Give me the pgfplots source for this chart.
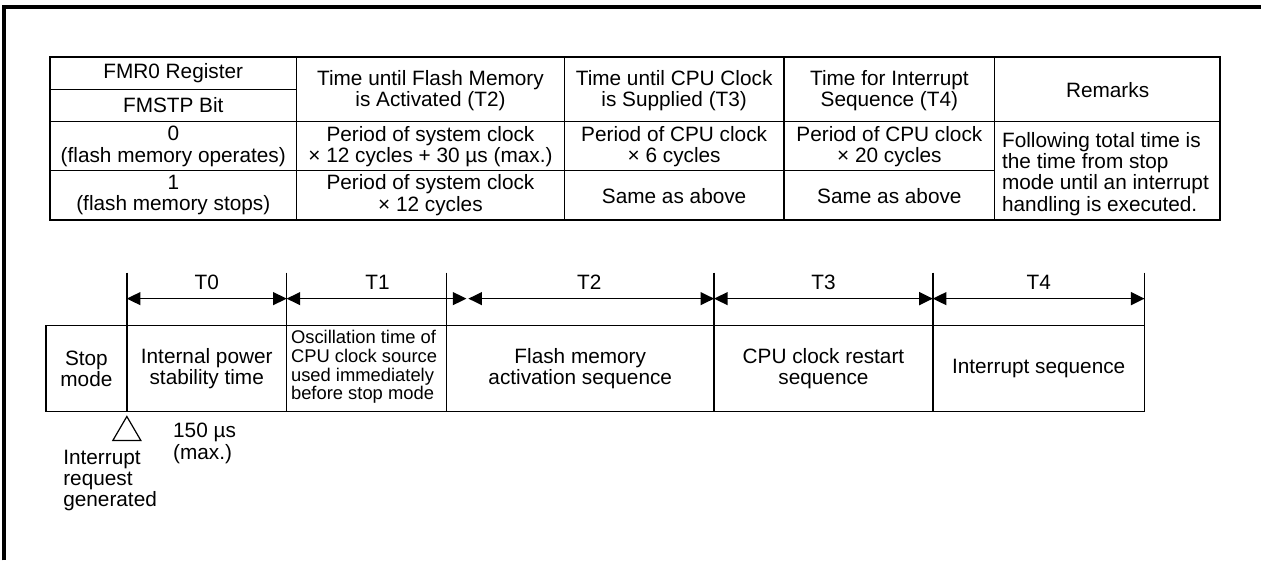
\documentclass[border=0pt]{standalone}
\usepackage{pgfplots}
\pgfplotsset{compat=1.18}
\usepackage{fontspec}
\setmainfont{Liberation Sans}
\usetikzlibrary{arrows.meta}
\newcommand{\tf}{\fontsize{10.4}{10.7}\selectfont}
\newcommand{\smf}{\fontsize{9.2}{9.3}\selectfont}
\newcommand{\seg}[5][line width=0.6pt]{\addplot[black,#1] coordinates {(#2,#3) (#4,#5)};}
\begin{document}
\begin{tikzpicture}
\begin{axis}[x=0.5pt, y=0.5pt, y dir=reverse, xmin=0, xmax=1263, ymin=0, ymax=561,
  hide axis, clip=false]
\path (axis cs:0,0) rectangle (axis cs:1263,561);
% outer frame
\addplot[black, line width=1.6pt, line join=miter] coordinates {(4,561) (4,7) (1263,7)};
% ---------------- table ----------------
\addplot[black, line width=1pt, line join=miter] coordinates {(50,57) (1222,57) (1222,220) (50,220) (50,57) (1222,57)};
\seg{50}{90}{297}{90}
\seg{50}{122}{1222}{122}
\seg{50}{171}{996}{171}
\seg{297}{57}{297}{220}
\seg{565}{57}{565}{220}
\seg{785}{57}{785}{220}
\seg{996}{57}{996}{220}
% table text
\node[font=\tf] at (axis cs:173.5,73) {FMR0 Register};
\node[font=\tf] at (axis cs:173.5,105.5) {FMSTP Bit};
\node[font=\tf, align=center] at (axis cs:173.5,146.5) {0\\(flash memory operates)};
\node[font=\tf, align=center] at (axis cs:173.5,195.5) {1\\(flash memory stops)};
\node[font=\tf, align=center] at (axis cs:431,91) {Time until Flash Memory\\is Activated (T2)};
\node[font=\tf, align=center] at (axis cs:431,146.5) {Period of system clock\\× 12 cycles + 30 µs (max.)};
\node[font=\tf, align=center] at (axis cs:431,195.5) {Period of system clock\\× 12 cycles};
\node[font=\tf, align=center] at (axis cs:675,91) {Time until CPU Clock\\is Supplied (T3)};
\node[font=\tf, align=center] at (axis cs:675,146.5) {Period of CPU clock\\× 6 cycles};
\node[font=\tf, align=center] at (axis cs:675,196) {Same as above};
\node[font=\tf, align=center] at (axis cs:890.5,91) {Time for Interrupt\\Sequence (T4)};
\node[font=\tf, align=center] at (axis cs:890.5,146.5) {Period of CPU clock\\× 20 cycles};
\node[font=\tf, align=center] at (axis cs:890.5,196) {Same as above};
\node[font=\tf] at (axis cs:1109,90) {Remarks};
\node[font=\tf, align=left, anchor=west, inner sep=0pt] at (axis cs:1003,174) {Following total time is\\the time from stop\\mode until an interrupt\\handling is executed.};
% ---------------- timing diagram ----------------
\addplot[black, line width=0.8pt, line join=miter] coordinates {(46,326) (1146,326) (1146,412) (46,412) (46,326) (1146,326)};
\seg[line width=0.7pt]{127}{273}{127}{412}
\seg[line width=0.7pt]{287}{273}{287}{412}
\seg[line width=0.7pt]{447}{273}{447}{412}
\seg[line width=0.7pt]{715}{273}{715}{412}
\seg[line width=0.7pt]{934}{273}{934}{412}
\seg[line width=0.7pt]{1146}{273}{1146}{326}
% arrows
\addplot[black, line width=0.7pt, {Triangle[length=6.8pt,width=6.5pt]}-{Triangle[length=6.8pt,width=6.5pt]}] coordinates {(127,299) (287,299)};
\addplot[black, line width=0.7pt, {Triangle[length=6.8pt,width=6.5pt]}-{Triangle[length=6.8pt,width=6.5pt]}] coordinates {(287,299) (467,299)};
\addplot[black, line width=0.7pt, {Triangle[length=6.8pt,width=6.5pt]}-{Triangle[length=6.8pt,width=6.5pt]}] coordinates {(469,299) (715,299)};
\addplot[black, line width=0.7pt, {Triangle[length=6.8pt,width=6.5pt]}-{Triangle[length=6.8pt,width=6.5pt]}] coordinates {(715,299) (934,299)};
\addplot[black, line width=0.7pt, {Triangle[length=6.8pt,width=6.5pt]}-{Triangle[length=6.8pt,width=6.5pt]}] coordinates {(934,299) (1146,299)};
% labels
\node[font=\tf] at (axis cs:207,283) {T0};
\node[font=\tf] at (axis cs:378,283) {T1};
\node[font=\tf] at (axis cs:590,283) {T2};
\node[font=\tf] at (axis cs:824.5,283) {T3};
\node[font=\tf] at (axis cs:1040,283) {T4};
\node[font=\tf, align=center] at (axis cs:86.5,369) {Stop\\mode};
\node[font=\tf, align=center] at (axis cs:207,369) {Internal power\\stability time};
\node[font=\smf, align=left, anchor=west, inner sep=0pt] at (axis cs:291,367.5) {Oscillation time of\\CPU clock source\\used immediately\\before stop mode};
\node[font=\tf, align=center] at (axis cs:581,369) {Flash memory\\activation sequence};
\node[font=\tf, align=center] at (axis cs:824.5,369) {CPU clock restart\\sequence};
\node[font=\tf, align=center] at (axis cs:1040,369) {Interrupt sequence};
% interrupt marker
\addplot[black, line width=0.6pt, line join=miter] coordinates {(127,417) (113,441) (141,441) (127,417) (113,441)};
\node[font=\tf, align=left, anchor=west, inner sep=0pt] at (axis cs:173,444) {150 µs\\(max.)};
\node[font=\tf, align=left, anchor=west, inner sep=0pt] at (axis cs:63,481) {Interrupt\\request\\generated};
\end{axis}
\end{tikzpicture}
\end{document}
